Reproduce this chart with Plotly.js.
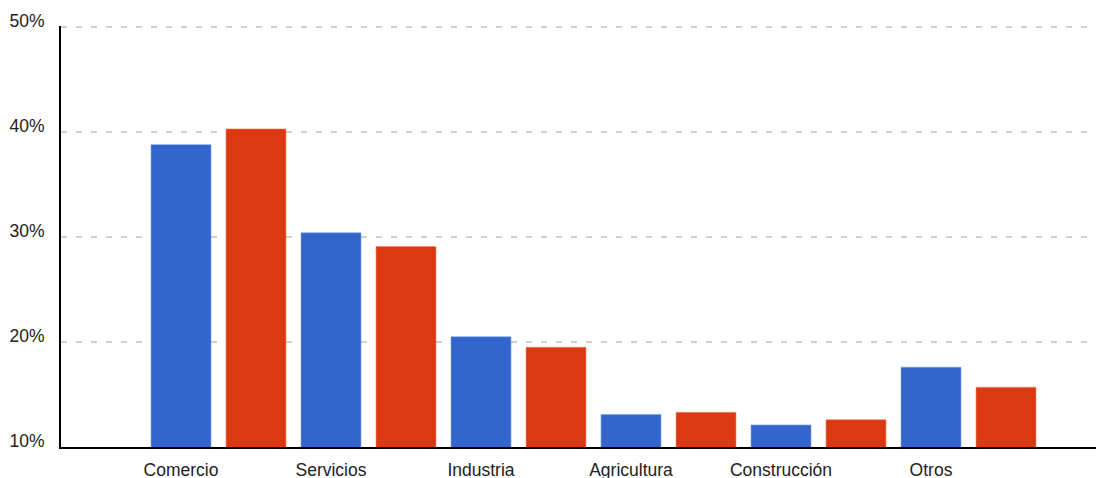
<!DOCTYPE html>
<html>
<head>
<meta charset="utf-8">
<script src="https://cdn.plot.ly/plotly-3.0.1.min.js"></script>
<style>html,body{margin:0;padding:0;background:#fff;}#chart{width:1096px;height:478px;}</style>
</head>
<body>
<div id="chart"></div>
<script>
const categories = ["Comercio", "Servicios", "Industria", "Agricultura", "Construcción", "Otros"];
const seriesA = [38.8, 30.4, 20.5, 13.1, 12.1, 17.6];
const seriesB = [40.3, 29.1, 19.5, 13.3, 12.6, 15.7];
const yTicks = [10, 20, 30, 40, 50];
const yTickLabels = ["10%", "20%", "30%", "40%", "50%"];

const traces = [
  {type: 'bar', x: categories, y: seriesA, width: 0.4, offset: -0.2,
   marker: {color: '#3366cc', line: {color: 'rgba(120,160,230,0.6)', width: 1}}, hoverinfo: 'none'},
  {type: 'bar', x: categories, y: seriesB, width: 0.4, offset: 0.3,
   marker: {color: '#dc3912', line: {color: 'rgba(240,140,110,0.6)', width: 1}}, hoverinfo: 'none'}
];

const layout = {
  width: 1096, height: 478,
  margin: {l: 61, r: 0, t: 26, b: 31},
  paper_bgcolor: '#fff', plot_bgcolor: '#fff',
  showlegend: false,
  barmode: 'overlay',
  font: {family: 'Arial, "Liberation Sans", sans-serif', size: 17.5, color: '#222'},
  xaxis: {
    type: 'category', range: [-0.8, 6.1], showgrid: false, zeroline: false,
    showline: true, linecolor: '#000', linewidth: 2, ticks: '', ticklabelstandoff: 6,
    tickfont: {size: 17.5, color: '#222'}
  },
  yaxis: {
    range: [10, 50.1], tickvals: yTicks, ticktext: yTickLabels,
    showgrid: true, gridcolor: '#d0d0d0', gridwidth: 1.5, griddash: '6px,9px',
    zeroline: false, showline: true, linecolor: '#000', linewidth: 2, ticks: '',
    ticklabelstandoff: 11, ticklabelshift: -6,
    tickfont: {size: 17.5, color: '#222'}
  }
};

Plotly.newPlot('chart', traces, layout, {displayModeBar: false, staticPlot: true});
</script>
</body>
</html>
